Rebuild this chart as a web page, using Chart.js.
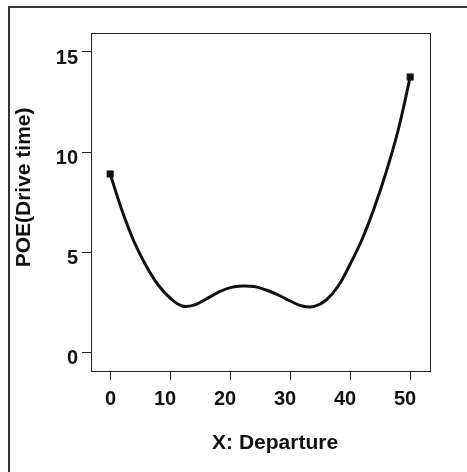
<!DOCTYPE html>
<html>
<head>
<meta charset="utf-8">
<script src="https://cdn.jsdelivr.net/npm/chart.js@4"></script>
<style>
  body { margin: 0; background: #fff; overflow: hidden; }
  canvas { display: block; }
</style>
</head>
<body>
<canvas id="chart" width="467" height="472"></canvas>
<script>
// curve
const departure = [0, 2, 4, 6, 8, 10, 12, 14, 16, 18, 20, 22, 24, 26, 28, 30, 32, 34, 36, 38, 40, 42, 44, 46, 48, 50];
const poe = [8.9, 7.05, 5.5, 4.3, 3.35, 2.7, 2.3, 2.35, 2.65, 2.98, 3.22, 3.3, 3.27, 3.1, 2.85, 2.55, 2.3, 2.28, 2.6, 3.3, 4.4, 5.65, 7.2, 9.0, 11.1, 13.75];
// end markers
const endX = [0, 50];
const endY = [8.9, 13.75];
const xTicks = [0, 10, 20, 30, 40, 50];
const yTicks = [0, 5, 10, 15];

const ink = "#111";
const tickFont = { family: "'Liberation Sans', Arial, sans-serif", size: 20, weight: "bold" };
const titleFont = { family: "'Liberation Sans', Arial, sans-serif", size: 21, weight: "bold" };

// outer frame (left and top edges only) plus the box round the plot
const boxPlugin = {
  id: "box",
  beforeDraw(chart) {
    const ctx = chart.ctx;
    ctx.save();
    ctx.fillStyle = "#fff";
    ctx.fillRect(0, 0, chart.width, chart.height);
    ctx.strokeStyle = "#333";
    ctx.lineWidth = 2;
    ctx.beginPath();
    ctx.moveTo(9, chart.height);
    ctx.lineTo(9, 7);
    ctx.lineTo(chart.width, 7);
    ctx.stroke();
    ctx.restore();
  },
  afterDraw(chart) {
    const a = chart.chartArea;
    const ctx = chart.ctx;
    ctx.save();
    ctx.strokeStyle = "#222";
    ctx.lineWidth = 1;
    ctx.strokeRect(Math.round(a.left) + 0.5, Math.round(a.top) + 0.5,
      Math.round(a.right - a.left), Math.round(a.bottom - a.top));
    ctx.restore();
  }
};

new Chart(document.getElementById("chart"), {
  type: "line",
  data: {
    datasets: [
      {
        data: departure.map((x, i) => ({ x: x, y: poe[i] })),
        borderColor: ink,
        borderWidth: 3,
        pointRadius: 0,
        tension: 0.4,
        fill: false
      },
      {
        data: endX.map((x, i) => ({ x: x, y: endY[i] })),
        showLine: false,
        pointStyle: "rect",
        pointRadius: 5,
        backgroundColor: ink,
        borderColor: ink,
        borderWidth: 0
      }
    ]
  },
  plugins: [boxPlugin],
  options: {
    responsive: false,
    animation: false,
    layout: { padding: { left: 10, top: 33, right: 37, bottom: 0 } },
    plugins: { legend: { display: false }, tooltip: { enabled: false } },
    scales: {
      x: {
        type: "linear",
        min: -3.2,
        max: 53.3,
        afterBuildTicks: (s) => { s.ticks = xTicks.map((v) => ({ value: v })); },
        afterFit: (s) => { s.height = 101; },
        grid: { drawOnChartArea: false, drawTicks: true, tickLength: 9, tickColor: "#222", tickWidth: 1 },
        border: { display: false },
        ticks: { color: ink, font: tickFont, padding: 7, maxRotation: 0, align: "end", labelOffset: 6 },
        title: { display: true, text: "     X: Departure", color: ink, font: titleFont, padding: { top: 0, bottom: 16 } }
      },
      y: {
        min: -0.95,
        max: 15.95,
        afterBuildTicks: (s) => { s.ticks = yTicks.map((v) => ({ value: v })); },
        afterFit: (s) => { s.width = 81; },
        grid: { drawOnChartArea: false, drawTicks: true, tickLength: 9, tickColor: "#222", tickWidth: 1 },
        border: { display: false },
        ticks: { color: ink, font: tickFont, padding: 4, labelOffset: 6 },
        title: { display: true, text: "     POE(Drive time)", color: ink, font: titleFont, padding: { top: 2, bottom: 0 } }
      }
    }
  }
});
</script>
</body>
</html>
